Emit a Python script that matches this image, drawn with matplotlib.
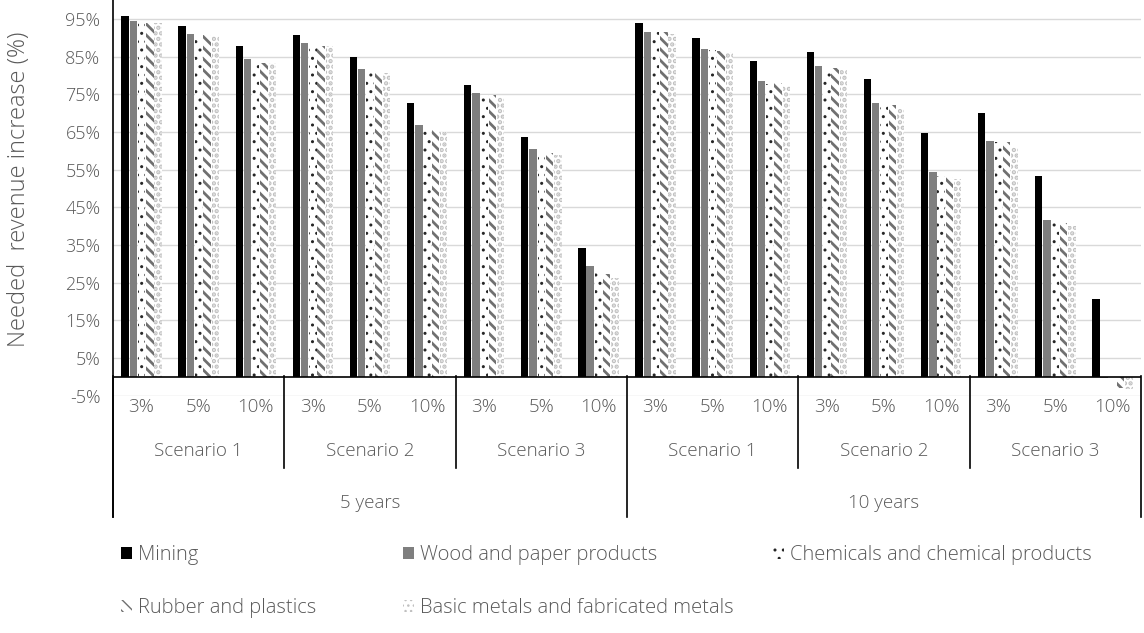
import matplotlib
matplotlib.use('Agg')
import matplotlib.pyplot as plt
from matplotlib.patches import Patch
import numpy as np

# categories
rates = ['3%', '5%', '10%']
scenarios = ['Scenario 1', 'Scenario 2', 'Scenario 3']
horizons = ['5 years', '10 years']

# needed revenue increase (%), one value per (horizon, scenario, rate)
mining = [95.8, 93.0, 87.8, 90.6, 84.8, 72.7, 77.4, 63.7, 34.1,
          93.8, 90.0, 83.8, 86.2, 79.0, 64.8, 70.1, 53.3, 20.6]
wood = [94.3, 91.1, 84.3, 88.5, 81.6, 66.8, 75.3, 60.5, 29.4,
        91.5, 86.9, 78.5, 82.6, 72.7, 54.3, 62.7, 41.6, -0.3]
chemicals = [94.0, 90.7, 82.7, 87.8, 81.2, 66.3, 74.7, 59.4, 28.1,
             91.4, 86.7, 77.8, 81.8, 72.3, 53.3, 62.4, 40.7, -1.5]
rubber = [94.0, 90.7, 83.3, 87.8, 80.5, 65.5, 74.7, 59.3, 27.3,
          91.5, 86.5, 78.0, 82.0, 72.1, 53.0, 62.4, 40.7, -3.0]
metals = [93.8, 90.4, 83.3, 87.7, 80.5, 65.0, 74.2, 58.8, 26.3,
          91.1, 86.1, 77.2, 81.6, 71.2, 52.4, 61.0, 40.1, -3.2]

series = [
    ('Mining', mining, dict(facecolor='black', edgecolor='black', hatch=None, hlw=1.0)),
    ('Wood and paper products', wood, dict(facecolor='#7f7f7f', edgecolor='#7f7f7f', hatch=None, hlw=1.0)),
    ('Chemicals and chemical products', chemicals, dict(facecolor='white', edgecolor='#262626', hatch='..', hlw=1.0)),
    ('Rubber and plastics', rubber, dict(facecolor='white', edgecolor='#707070', hatch='\\\\\\', hlw=2.0)),
    ('Basic metals and fabricated metals', metals, dict(facecolor='white', edgecolor='#c0c0c0', hatch='...', hlw=2.2)),
]

TXT = '#595959'
plt.rcParams['font.family'] = ['Open Sans', 'DejaVu Sans']
plt.rcParams['font.weight'] = 'light'

W, H = 1144, 633
fig = plt.figure(figsize=(W / 100, H / 100), dpi=100)
ax_left, ax_right, ax_top, ax_bot = 113, 1141, 0, 395.6
ax = fig.add_axes([ax_left / W, 1 - ax_bot / H, (ax_right - ax_left) / W, (ax_bot - ax_top) / H])

n = len(mining)
x = np.arange(n)
step, width = 0.145, 0.13


def style_bars(bars, st):
    for b in bars:
        b.set_linewidth(0)
        if st['hatch']:
            b.set_hatch(st['hatch'])
            if hasattr(b, 'set_hatch_linewidth'):
                b.set_hatch_linewidth(st['hlw'])


for i, (name, vals, st) in enumerate(series):
    bars = ax.bar(x + (i - 2) * step, vals, width, color=st['facecolor'],
                  edgecolor=st['edgecolor'], zorder=3)
    style_bars(bars, st)

ax.set_xlim(-0.5, n - 0.5)
ax.set_ylim(-5, 100)
ax.set_yticks(np.arange(-5, 100, 10))
ax.set_yticklabels(['%d%%' % v for v in np.arange(-5, 100, 10)])
ax.tick_params(axis='y', length=0, labelsize=13, labelcolor=TXT, pad=9)
ax.set_xticks([])
ax.grid(axis='y', color='#d9d9d9', linewidth=1, zorder=0)
ax.set_axisbelow(True)
for s in ['top', 'right', 'bottom', 'left']:
    ax.spines[s].set_visible(False)
ax.axhline(0, color='black', linewidth=1.2, zorder=4)

# multi-level category axis
xt = ax.get_xaxis_transform()


def ya(py):
    return (ax_bot - py) / (ax_bot - ax_top)


CAT = 13.5
for k in range(n):
    ax.text(x[k], ya(407), rates[k % 3], transform=xt, ha='center', va='center',
            fontsize=CAT, color=TXT, clip_on=False)
for k in range(n // 3):
    ax.text(3 * k + 1, ya(451), scenarios[k % 3], transform=xt, ha='center', va='center',
            fontsize=CAT, color=TXT, clip_on=False)
for k in range(len(horizons)):
    ax.text(9 * k + 4, ya(503), horizons[k], transform=xt, ha='center', va='center',
            fontsize=CAT, color=TXT, clip_on=False)

for k in range(n // 3 + 1):
    xs = 3 * k - 0.5
    bottom = 517 if k % 3 == 0 else 468
    ax.plot([xs, xs], [ya(376), ya(bottom)], transform=xt, color='black',
            linewidth=1.2, clip_on=False, zorder=5)
# value axis line running down through the category area
ax.plot([-0.5, -0.5], [1, ya(517)], transform=xt, color='black', linewidth=1.2,
        clip_on=False, zorder=5)

fig.text(19 / W, 1 - 189 / H, 'Needed  revenue increase (%)', rotation=90,
         ha='center', va='center', fontsize=17, color=TXT)

# legend laid out in fixed columns
leg_pos = [(121, 555), (403, 555), (773, 555), (121, 608), (403, 608)]
for (name, vals, st), (px, py) in zip(series, leg_pos):
    h = Patch(facecolor=st['facecolor'], edgecolor=st['edgecolor'], linewidth=0,
              hatch=st['hatch'])
    if st['hatch'] and hasattr(h, 'set_hatch_linewidth'):
        h.set_hatch_linewidth(st['hlw'])
    fig.legend(handles=[h], labels=[name], loc='center left',
               bbox_to_anchor=(px / W, 1 - py / H), frameon=False,
               handlelength=0.55, handleheight=0.55, handletextpad=0.3,
               borderpad=0, borderaxespad=0, fontsize=14.5, labelcolor=TXT)

fig.savefig('out.png', dpi=100)
